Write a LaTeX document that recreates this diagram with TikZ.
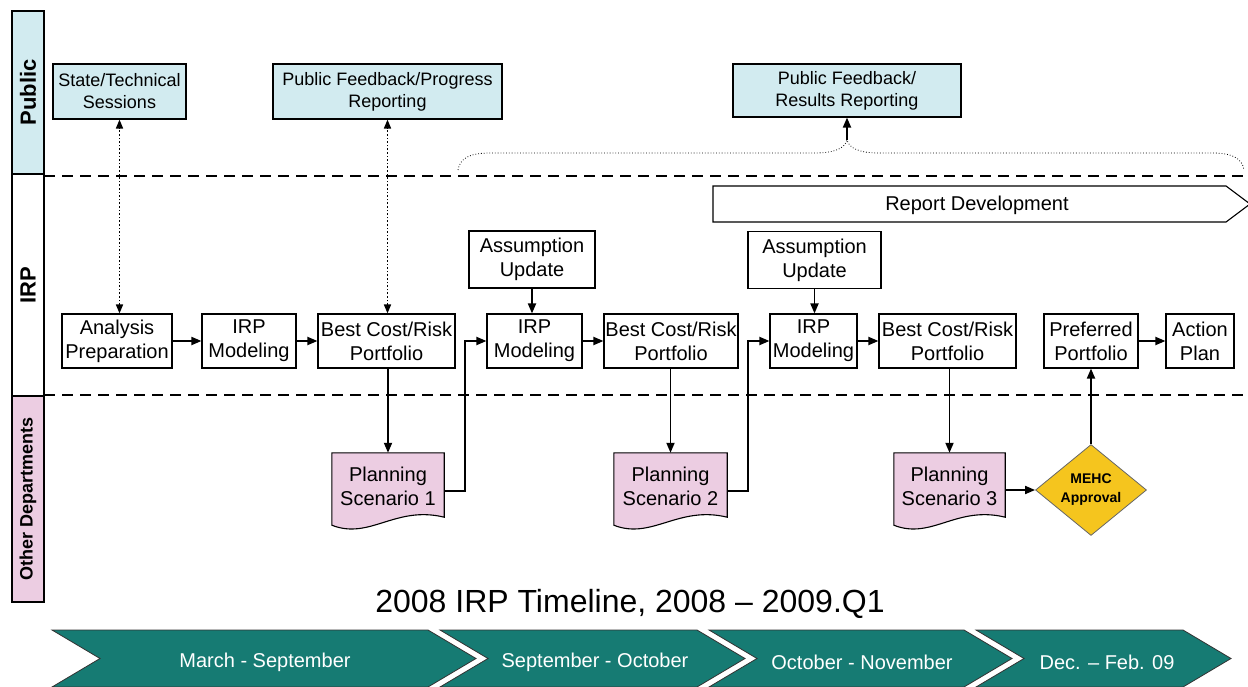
\documentclass[tikz,border=0pt]{standalone}
\usepackage{fontspec}
\setmainfont{Liberation Sans}
\usetikzlibrary{arrows.meta,shapes.geometric,calc,backgrounds}
\definecolor{pubblue}{RGB}{210,235,240}
\definecolor{deptpink}{RGB}{236,205,226}
\definecolor{goldy}{RGB}{245,197,30}
\definecolor{tealc}{RGB}{22,123,115}
\begin{document}
\begin{tikzpicture}[x=1pt,y=-1pt,
 box/.style={draw=black, line width=1.1pt, fill=white, inner sep=0pt, align=center, font=\fontsize{20}{24}\selectfont},
 pubbox/.style={box, fill=pubblue, font=\fontsize{18}{22}\selectfont},
 docnode/.style={inner sep=0pt, align=center, font=\fontsize{20}{24}\selectfont, minimum height=66},
 docfill/.style={draw=black, line width=1.1pt, fill=deptpink},
 lanebox/.style={draw=black, line width=1.1pt, rotate=90, minimum height=32, inner sep=0pt, font=\bfseries\fontsize{22}{26}\selectfont},
 lanedash/.style={line width=2.6pt, dash pattern=on 11pt off 7pt},
 conn/.style={line width=1.8pt, -{Triangle[length=10pt,width=8pt]}},
 dotconn/.style={line width=1.6pt, dotted, {Triangle[length=9pt,width=7pt]}-{Triangle[length=9pt,width=7pt]}},
 chev/.style={fill=tealc, draw=black!80, line width=0.8pt},
 chevtext/.style={text=white, font=\fontsize{20}{24}\selectfont},
]
\useasboundingbox (0,0) rectangle (1248,687);

% lanes
\node[lanebox, fill=pubblue, minimum width=163] (lpub) at (28,92.5) {Public};
\node[lanebox, fill=white, minimum width=222] (lirp) at (28,285) {IRP};
\node[lanebox, fill=deptpink, minimum width=206, font=\bfseries\fontsize{18}{22}\selectfont] (loth) at (28,499) {Other Departments};
\draw[lanedash] (44,176) -- (1248,176);
\draw[lanedash] (44,395) -- (1248,395);

% public boxes
\node[pubbox, minimum width=133, minimum height=55] (state) at (119.5,91.5) {State/Technical\\Sessions};
\node[pubbox, minimum width=229, minimum height=55] (pfp) at (387.5,91.5) {Public Feedback/Progress\\Reporting};
\node[pubbox, minimum width=228, minimum height=53] (pfr) at (847,90.5) {Public Feedback/\\Results Reporting};

% brace
\coordinate (bracetip) at (847,140);
\draw[line width=0.8pt, dotted] (458,170) .. controls (460,158) and (470,153) .. (490,153) -- (815,153)
  .. controls (835,153) and (845,148) .. (bracetip) .. controls (849,148) and (859,153) .. (879,153)
  -- (1212,153) .. controls (1232,153) and (1242,158) .. (1244,170);
\draw[conn] (bracetip) -- (pfr.south);

% report development
\draw[line width=1.1pt, fill=white] (713,186) -- (1226,186) -- (1250,204) -- (1226,222) -- (713,222) -- cycle;
\node[font=\fontsize{20}{24}\selectfont] (report) at (977,205) {Report Development};

% IRP row
\node[box, minimum width=110, minimum height=54] (ana) at (117,341) {Analysis\\Preparation};
\node[box, minimum width=94, minimum height=54] (irp1) at (249,341) {IRP\\Modeling};
\node[box, minimum width=137, minimum height=54] (bcr1) at (386.5,341) {Best Cost/Risk\\Portfolio};
\node[box, minimum width=126, minimum height=57] (au1) at (532,259.5) {Assumption\\Update};
\node[box, minimum width=95, minimum height=54] (irp2) at (534.5,341) {IRP\\Modeling};
\node[box, minimum width=134, minimum height=54] (bcr2) at (671,341) {Best Cost/Risk\\Portfolio};
\node[box, minimum width=133, minimum height=57] (au2) at (814.5,260) {Assumption\\Update};
\node[box, minimum width=87, minimum height=54] (irp3) at (813.5,341) {IRP\\Modeling};
\node[box, minimum width=137, minimum height=54] (bcr3) at (947.5,341) {Best Cost/Risk\\Portfolio};
\node[box, minimum width=94, minimum height=54] (pref) at (1091,341) {Preferred\\Portfolio};
\node[box, minimum width=68, minimum height=54] (act) at (1200,341) {Action\\Plan};

% planning scenarios
\node[docnode, minimum width=112] (ps1) at (388,486) {Planning\\Scenario 1};
\node[docnode, minimum width=113] (ps2) at (670.5,486) {Planning\\Scenario 2};
\node[docnode, minimum width=111] (ps3) at (949.5,486) {Planning\\Scenario 3};
\begin{pgfonlayer}{background}
\foreach \p in {ps1,ps2,ps3}{
  \draw[docfill] (\p.north west) -- (\p.north east) -- ($(\p.south east)+(0,-2)$)
    .. controls +(-49,-12) and +(38,15) .. ($(\p.south west)+(0,6)$) -- cycle;
}
\end{pgfonlayer}

% MEHC
\node[diamond, draw=black!60, line width=0.8pt, fill=goldy, inner sep=0pt, minimum width=111, minimum height=91, aspect=1.22, align=center, font=\bfseries\fontsize{14}{19}\selectfont] (mehc) at (1091,490) {MEHC\\Approval};

% connectors
\draw[dotconn] (ana.north -| state.south) -- (state.south);
\draw[dotconn] (bcr1.north -| pfp.south) -- (pfp.south);
\draw[conn] (ana) -- (irp1);
\draw[conn] (irp1) -- (bcr1);
\draw[conn] (bcr1.south -| ps1.north) -- (ps1.north);
\draw[conn] ($(ps1.east)+(0,5)$) -- ++(21,0) |- (irp2.west);
\draw[conn] (au1.south) -- (au1.south |- irp2.north);
\draw[conn] (irp2) -- (bcr2);
\draw[conn] (bcr2.south -| ps2.north) -- (ps2.north);
\draw[conn] ($(ps2.east)+(0,5)$) -- ++(21,0) |- (irp3.west);
\draw[conn] (au2.south) -- (au2.south |- irp3.north);
\draw[conn] (irp3) -- (bcr3);
\draw[conn] (bcr3.south -| ps3.north) -- (ps3.north);
\draw[conn] (ps3.east |- mehc.west) -- (mehc.west);
\draw[conn] (mehc.north) -- (pref.south);
\draw[conn] (pref) -- (act);

% title
\node[font=\fontsize{32}{38}\selectfont] (title) at (630,604) {2008 IRP Timeline, 2008 – 2009.Q1};

% timeline chevrons
\draw[chev] (52,630) -- (428,630) -- (476,658.5) -- (428,687) -- (52,687) -- (100,658.5) -- cycle;
\draw[chev] (440,630) -- (697,630) -- (745,658.5) -- (697,687) -- (440,687) -- (488,658.5) -- cycle;
\draw[chev] (709,630) -- (964,630) -- (1012,658.5) -- (964,687) -- (709,687) -- (757,658.5) -- cycle;
\draw[chev] (976,630) -- (1183,630) -- (1231,658.5) -- (1183,687) -- (976,687) -- (1024,658.5) -- cycle;
\node[chevtext] (t1) at (265,662) {March - September};
\node[chevtext] (t2) at (595,662) {September - October};
\node[chevtext] (t3) at (862,662) {October - November};
\node[chevtext] (t4) at (1107,662) {Dec. – Feb. 09};
\end{tikzpicture}
\end{document}
